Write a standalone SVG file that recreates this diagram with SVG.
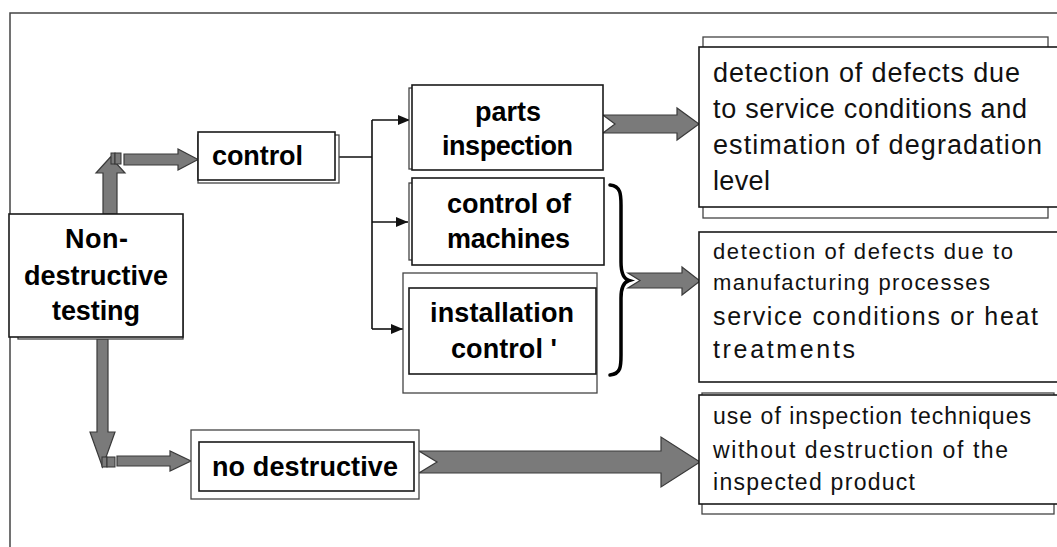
<svg xmlns="http://www.w3.org/2000/svg" width="1057" height="547" viewBox="0 0 1057 547">
<style>
.frame{fill:none;stroke:#444;stroke-width:1.5}
.box{fill:#fff;stroke:#1a1a1a;stroke-width:1.6}
.shadow{fill:#fff;stroke:#444;stroke-width:1.3}
.thick{fill:#7a7a7a;stroke:#3a3a3a;stroke-width:1.2;stroke-linejoin:miter}
.small{fill:#7a7a7a;stroke:#333;stroke-width:1}
.conn{fill:none;stroke:#111;stroke-width:1.6}
.brace{fill:none;stroke:#000;stroke-width:3.5;stroke-linecap:round}
.b{font-family:"Liberation Sans",Arial,sans-serif;font-weight:bold;font-size:27px;fill:#000}
.r{font-family:"Liberation Sans",Arial,sans-serif;fill:#111}
</style>
<defs>
<marker id="ah" markerUnits="userSpaceOnUse" markerWidth="12" markerHeight="10" refX="12" refY="5" orient="auto">
<path d="M0,0 L12,5 L0,10 Z" fill="#111"/>
</marker>
</defs>
<path class="frame" d="M10,547 V13 H1057"/>

<g id="connectors">
<polygon class="thick" points="103,214 103,173 96,173 110.5,157 125,173 117,173 117,214"/>
<rect class="small" x="111" y="153" width="4" height="11"/>
<rect class="small" x="115" y="153" width="6" height="11"/>
<polygon class="thick" points="124,154 178,154 178,149 198,159.5 178,170 178,165 124,165"/>
<polygon class="thick" points="97,339 97,432 90,432 102.5,467 115,432 108,432 108,339"/>
<rect class="small" x="102" y="457" width="5" height="10" fill="#333"/>
<rect class="small" x="107" y="457" width="8" height="10"/>
<polygon class="thick" points="117,456 170,456 170,451 191,461 170,471 170,466 117,466"/>
<polygon class="thick" points="419,451 661,451 661,437 700,462 661,487 661,473 419,473 437,462"/>
<polygon class="thick" points="603,115 677,115 677,108 699,124 677,140 677,133 603,133 615,124"/>
<polygon class="thick" points="628,273 682,273 682,267 700,281 682,295 682,288 628,288 640,280.5"/>
<path class="conn" d="M339,157 H372 M372,120 V329"/>
<path class="conn" d="M372,120 H410" marker-end="url(#ah)"/>
<path class="conn" d="M372,222 H408" marker-end="url(#ah)"/>
<path class="conn" d="M372,329 H403" marker-end="url(#ah)"/>
<path class="brace" d="M610,185 C621,186 621,195 621,205 V262 C621,274 624,279 629,280.5 C624,282 621,287 621,298 V355 C621,366 621,374 610,375"/>
</g>

<g id="ndt">
<rect class="shadow" x="18" y="220" width="165" height="119"/>
<rect class="box" x="9" y="214" width="174" height="123"/>
<text class="b" x="96.5" y="248" text-anchor="middle" textLength="63">Non-</text>
<text class="b" x="96" y="285" text-anchor="middle" textLength="144">destructive</text>
<text class="b" x="96" y="320" text-anchor="middle" textLength="88">testing</text>
</g>

<g id="control">
<rect class="shadow" x="198" y="135" width="141" height="48"/>
<rect class="box" x="198" y="132" width="137" height="48"/>
<text class="b" x="212" y="165" textLength="91">control</text>
</g>

<g id="parts">
<rect class="shadow" x="409" y="88" width="190" height="81"/>
<rect class="box" x="412" y="85" width="191" height="85"/>
<text class="b" x="508" y="121" text-anchor="middle" textLength="66">parts</text>
<text class="b" x="507.5" y="155" text-anchor="middle" textLength="131">inspection</text>
</g>

<g id="machines">
<rect class="shadow" x="409" y="183" width="190" height="77"/>
<rect class="box" x="412" y="178" width="192" height="87"/>
<text class="b" x="509" y="213" text-anchor="middle" textLength="124">control of</text>
<text class="b" x="508.5" y="248" text-anchor="middle" textLength="123">machines</text>
</g>

<g id="installation">
<rect class="shadow" x="403" y="273" width="194" height="120"/>
<rect class="box" x="409" y="288" width="187" height="86"/>
<text class="b" x="502" y="322" text-anchor="middle" textLength="144">installation</text>
<text class="b" x="504" y="358" text-anchor="middle" textLength="106">control '</text>
</g>

<g id="nodestructive">
<rect class="shadow" x="191" y="430" width="228" height="69"/>
<rect class="box" x="199" y="442" width="215" height="49"/>
<text class="b" x="212" y="476" textLength="186">no destructive</text>
</g>

<g id="service">
<rect class="shadow" x="703" y="37" width="345" height="181"/>
<rect class="box" x="699" y="47" width="365" height="160"/>
<text class="r" font-size="27" x="713" y="82" textLength="307">detection of defects due</text>
<text class="r" font-size="27" x="713" y="118" textLength="314">to service conditions and</text>
<text class="r" font-size="27" x="713" y="154" textLength="329">estimation of degradation</text>
<text class="r" font-size="27" x="713" y="190" textLength="57">level</text>
</g>

<g id="manufacturing">
<rect class="box" x="699" y="232" width="365" height="150"/>
<text class="r" font-size="22" x="713" y="259" textLength="300">detection of defects due to</text>
<text class="r" font-size="22" x="713" y="290" textLength="277">manufacturing processes</text>
<text class="r" font-size="25" x="713" y="325" textLength="325">service conditions or heat</text>
<text class="r" font-size="25" x="713" y="358" textLength="142">treatments</text>
</g>

<g id="use">
<rect class="shadow" x="702" y="393" width="352" height="121"/>
<rect class="box" x="699" y="395" width="365" height="109"/>
<text class="r" font-size="23" x="713" y="424" textLength="318">use of inspection techniques</text>
<text class="r" font-size="23" x="713" y="458" textLength="295">without destruction of the</text>
<text class="r" font-size="23" x="713" y="490" textLength="202">inspected product</text>
</g>
</svg>
